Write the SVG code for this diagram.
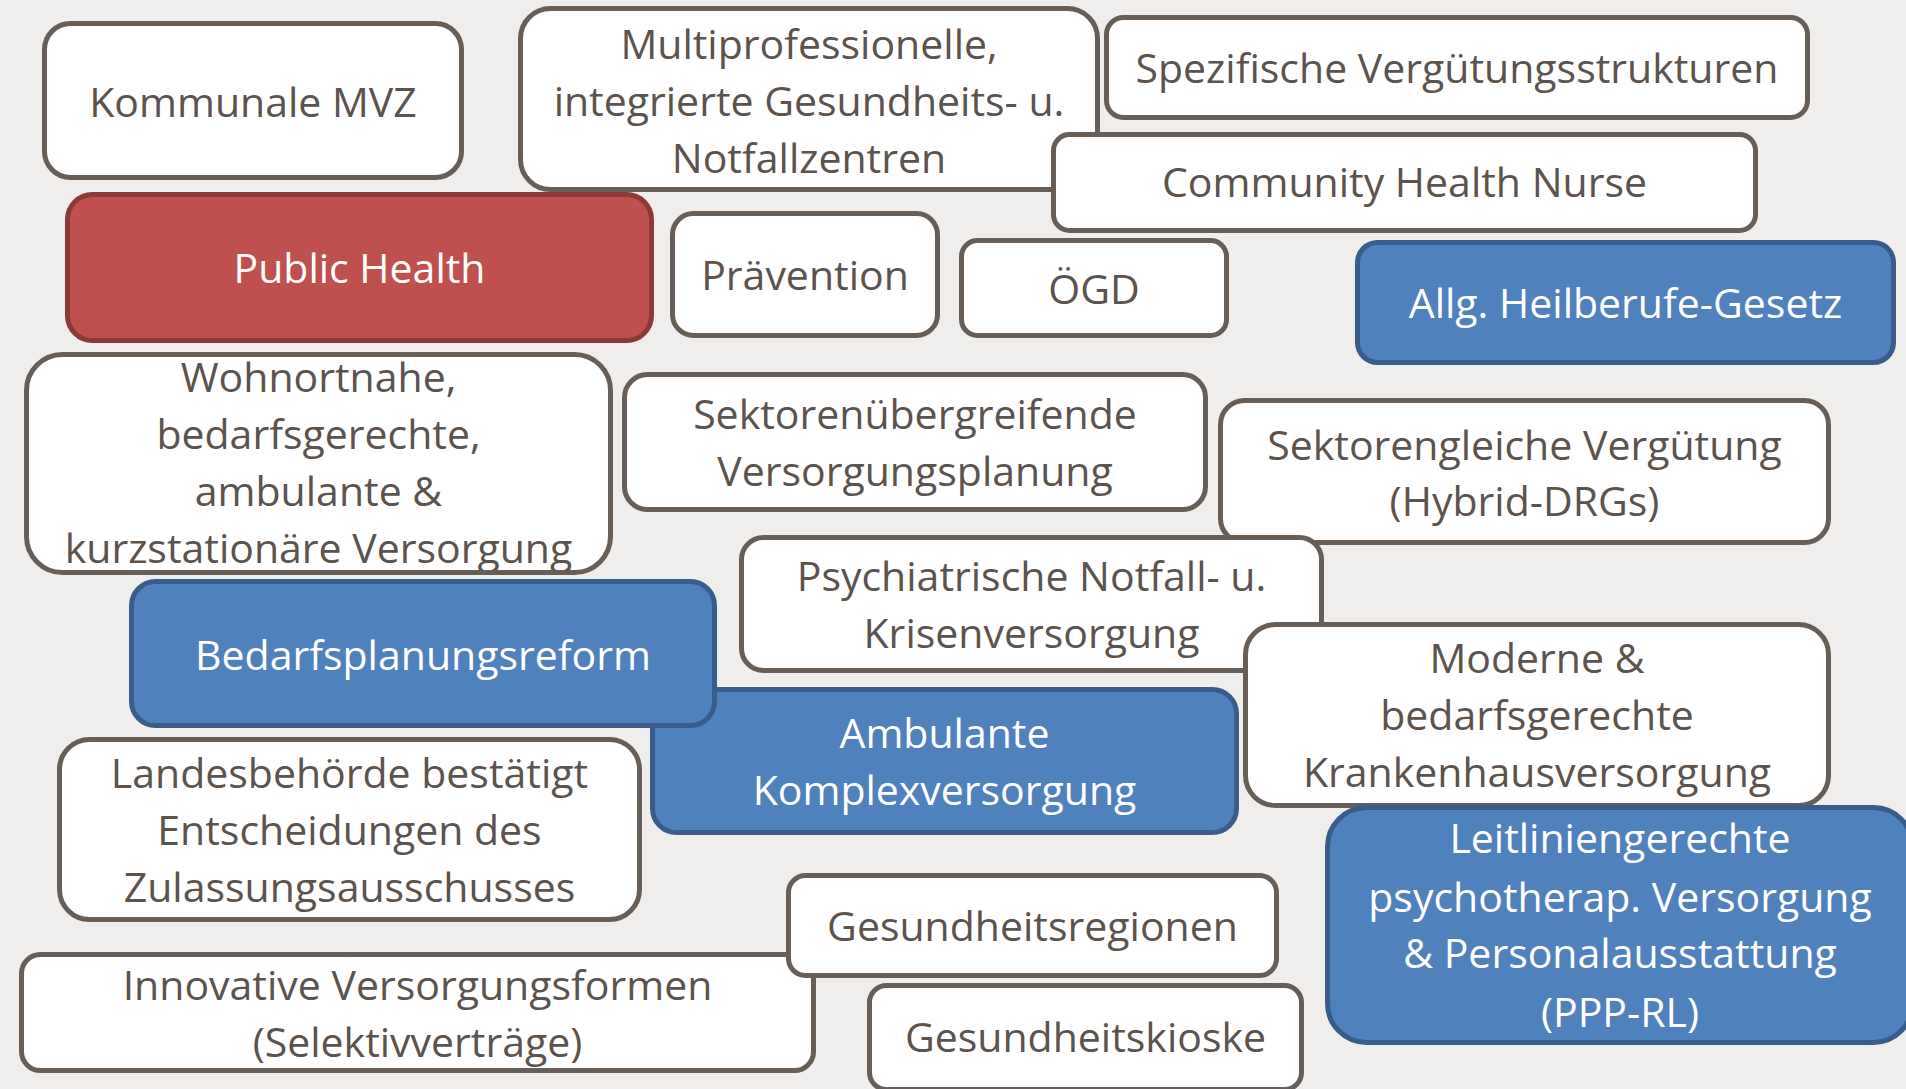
<svg xmlns="http://www.w3.org/2000/svg" width="1906" height="1089" viewBox="0 0 1906 1089">
<style>
.w{fill:#FFFFFF;stroke:#675F57;stroke-width:5}
.b{fill:#4F81BD;stroke:#385D8A;stroke-width:5}
.r{fill:#C0504D;stroke:#8C3A38;stroke-width:5}
text{font-family:"Open Sans","Noto Sans",sans-serif;font-size:41px;text-anchor:middle;fill:#5B534C}
.lt{fill:#FFFFFF}
</style>
<defs>
<clipPath id="clipWohn"><rect x="29" y="357" width="579" height="213" rx="34"/></clipPath>
</defs>
<rect x="0" y="0" width="1906" height="1089" fill="#EFEEEC"/>
<g id="node-kommunale-mvz"><rect class="w" x="44.5" y="23.5" width="417" height="154" rx="26"/><text x="253" y="117">Kommunale MVZ</text></g>
<g id="node-multiprofessionelle"><rect class="w" x="520.5" y="8.5" width="577" height="181" rx="30"/><text x="809" y="59">Multiprofessionelle,</text><text x="809" y="116">integrierte Gesundheits- u.</text><text x="809" y="173">Notfallzentren</text></g>
<g id="node-spezifische-verguetung"><rect class="w" x="1106.5" y="17.5" width="701" height="100" rx="17"/><text x="1457" y="83">Spezifische Vergütungsstrukturen</text></g>
<g id="node-community-health-nurse"><rect class="w" x="1053.5" y="134.5" width="702" height="96" rx="16"/><text x="1404.5" y="197">Community Health Nurse</text></g>
<g id="node-public-health"><rect class="r" x="67.5" y="194.5" width="584" height="146" rx="25"/><text class="lt" x="359.5" y="283">Public Health</text></g>
<g id="node-praevention"><rect class="w" x="672.5" y="213.5" width="265" height="122" rx="21"/><text x="805" y="290">Prävention</text></g>
<g id="node-oegd"><rect class="w" x="961.5" y="240.5" width="265" height="95" rx="16"/><text x="1094" y="304">ÖGD</text></g>
<g id="node-allg-heilberufe"><rect class="b" x="1357.5" y="242.5" width="536" height="120" rx="20"/><text class="lt" x="1625.5" y="318">Allg. Heilberufe-Gesetz</text></g>
<g id="node-wohnortnahe"><rect class="w" x="26.5" y="354.5" width="584" height="218" rx="36"/><g clip-path="url(#clipWohn)"><text x="318.5" y="392">Wohnortnahe,</text><text x="318.5" y="449">bedarfsgerechte,</text><text x="318.5" y="506">ambulante &amp;</text><text x="318.5" y="563">kurzstationäre Versorgung</text></g></g>
<g id="node-sektorenuebergreifend"><rect class="w" x="624.5" y="374.5" width="581" height="135" rx="23"/><text x="915" y="429">Sektorenübergreifende</text><text x="915" y="486">Versorgungsplanung</text></g>
<g id="node-sektorengleich"><rect class="w" x="1220.5" y="400.5" width="608" height="142" rx="24"/><text x="1524.5" y="460">Sektorengleiche Vergütung</text><text x="1524.5" y="516">(Hybrid-DRGs)</text></g>
<g id="node-psychiatrische"><rect class="w" x="741.5" y="537.5" width="580" height="133" rx="22"/><text x="1031.5" y="591">Psychiatrische Notfall- u.</text><text x="1031.5" y="648">Krisenversorgung</text></g>
<g id="node-ambulante-komplex"><rect class="b" x="652.5" y="689.5" width="584" height="143" rx="24"/><text class="lt" x="944.5" y="748">Ambulante</text><text class="lt" x="944.5" y="805">Komplexversorgung</text></g>
<g id="node-bedarfsplanungsreform"><rect class="b" x="131.5" y="581.5" width="583" height="144" rx="24"/><text class="lt" x="423" y="670">Bedarfsplanungsreform</text></g>
<g id="node-moderne-krankenhaus"><rect class="w" x="1245.5" y="624.5" width="583" height="181" rx="30"/><text x="1537" y="673">Moderne &amp;</text><text x="1537" y="730">bedarfsgerechte</text><text x="1537" y="787">Krankenhausversorgung</text></g>
<g id="node-landesbehoerde"><rect class="w" x="59.5" y="739.5" width="580" height="180" rx="30"/><text x="349.5" y="788">Landesbehörde bestätigt</text><text x="349.5" y="845">Entscheidungen des</text><text x="349.5" y="902">Zulassungsausschusses</text></g>
<g id="node-leitliniengerecht"><rect class="b" x="1327.5" y="807.5" width="585" height="235" rx="39"/><text class="lt" x="1620" y="853">Leitliniengerechte</text><text class="lt" x="1620" y="912">psychotherap. Versorgung</text><text class="lt" x="1620" y="968">&amp; Personalausstattung</text><text class="lt" x="1620" y="1027">(PPP-RL)</text></g>
<g id="node-innovative"><rect class="w" x="21.5" y="954.5" width="792" height="116" rx="19"/><text x="417.5" y="1000">Innovative Versorgungsformen</text><text x="417.5" y="1057">(Selektivverträge)</text></g>
<g id="node-gesundheitsregionen"><rect class="w" x="788.5" y="875.5" width="488" height="100" rx="17"/><text x="1032.5" y="941">Gesundheitsregionen</text></g>
<g id="node-gesundheitskioske"><rect class="w" x="869.5" y="985.5" width="432" height="104" rx="17"/><text x="1085.5" y="1052">Gesundheitskioske</text></g>
</svg>
